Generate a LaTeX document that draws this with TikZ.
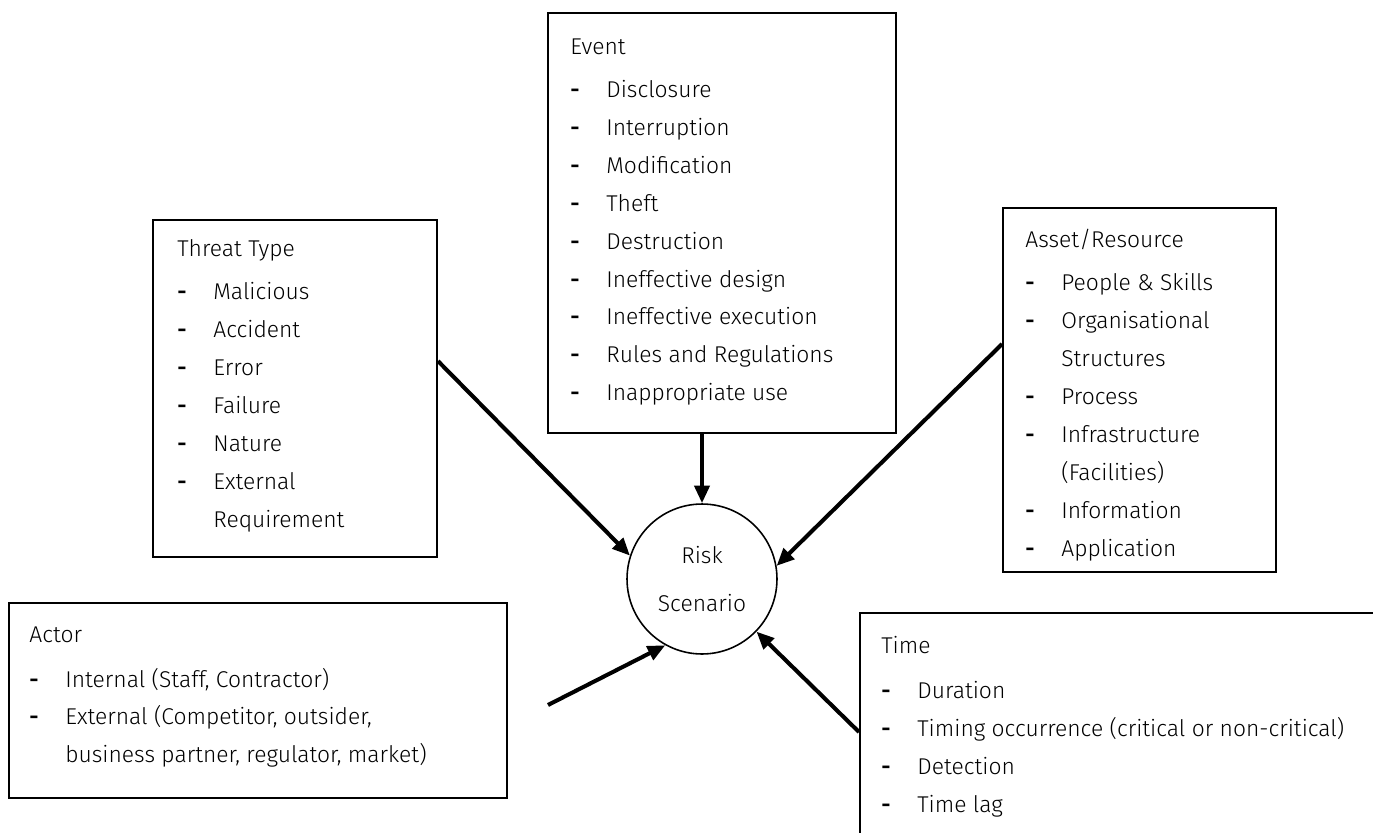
\documentclass[tikz,border=0pt]{standalone}
\usepackage{fontspec}
\setmainfont{Fira Sans Light}
\usetikzlibrary{arrows.meta,fit,calc}
\tikzstyle{factor}=[draw,line width=1.1pt,inner sep=0pt]
\tikzstyle{entries}=[anchor=north west,align=left,inner sep=0pt,font=\fontsize{13}{21.6}\selectfont]
\tikzstyle{scenario}=[circle,draw,line width=0.9pt,minimum size=3cm,inner sep=0pt,align=center,font=\fontsize{13}{21.6}\selectfont]
\tikzstyle{edge}=[draw,line width=2.3pt,-{Triangle[length=10pt,width=8.5pt]}]
\newcommand{\itemdash}{\makebox[0.72cm][l]{\textbf{-}}}
\newcommand{\itemgap}{\hspace*{0.72cm}}

\begin{document}
\begin{tikzpicture}[x=0.02cm,y=-0.02cm]
    \useasboundingbox (0,0) rectangle (1373,832);
    \clip (0,0) rectangle (1373,832);

    % boxes around each group of factors
    \foreach \name/\xa/\ya/\xb/\yb in {event/548/13/896/433, threat/153/220/437/557,
                                       asset/1003/208/1276/572, actor/9/603/507/798,
                                       time/860/613/1400/860}
    \node[factor, fit={(\xa,\ya) (\xb,\yb)}] (\name) {};

    % lists inside the boxes
    \node[entries] (eventlist) at ($(event.north west)+(23,26)$) {Event\\[3pt]
        \itemdash Disclosure\\
        \itemdash Interruption\\
        \itemdash Modification\\
        \itemdash Theft\\
        \itemdash Destruction\\
        \itemdash Ineffective design\\
        \itemdash Ineffective execution\\
        \itemdash Rules and Regulations\\
        \itemdash Inappropriate use};
    \node[entries] (threatlist) at ($(threat.north west)+(25,20)$) {Threat Type\\[3pt]
        \itemdash Malicious\\
        \itemdash Accident\\
        \itemdash Error\\
        \itemdash Failure\\
        \itemdash Nature\\
        \itemdash External\\
        \itemgap Requirement};
    \node[entries] (assetlist) at ($(asset.north west)+(23,22)$) {Asset/Resource\\[3pt]
        \itemdash People \& Skills\\
        \itemdash Organisational\\
        \itemgap Structures\\
        \itemdash Process\\
        \itemdash Infrastructure\\
        \itemgap (Facilities)\\
        \itemdash Information\\
        \itemdash Application};
    \node[entries] (actorlist) at ($(actor.north west)+(21,24)$) {Actor\\[4pt]
        \itemdash Internal (Staff, Contractor)\\
        \itemdash External (Competitor, outsider,\\
        \itemgap business partner, regulator, market)};
    \node[entries] (timelist) at ($(time.north west)+(22,24)$) {Time\\[4pt]
        \itemdash Duration\\
        \itemdash Timing occurrence (critical or non-critical)\\
        \itemdash Detection\\
        \itemdash Time lag};

    % the scenario in the middle
    \node[scenario] (risk) at (702,579) {Risk\\[6pt]Scenario};

    % every factor points at the scenario
    \coordinate (eventout) at (risk |- event.south);
    \coordinate (threatout) at ($(threat.north east)+(0,142)$);
    \coordinate (assetout) at ($(asset.north west)+(0,137)$);
    \coordinate (timeout) at ($(time.north west)+(0,120)$);
    \coordinate (actorout) at (548,705);
    \foreach \source/\dest in {eventout/90, threatout/162, assetout/10, actorout/241, timeout/316}
    \path[edge] (\source) -- (risk.\dest);
\end{tikzpicture}
\end{document}
